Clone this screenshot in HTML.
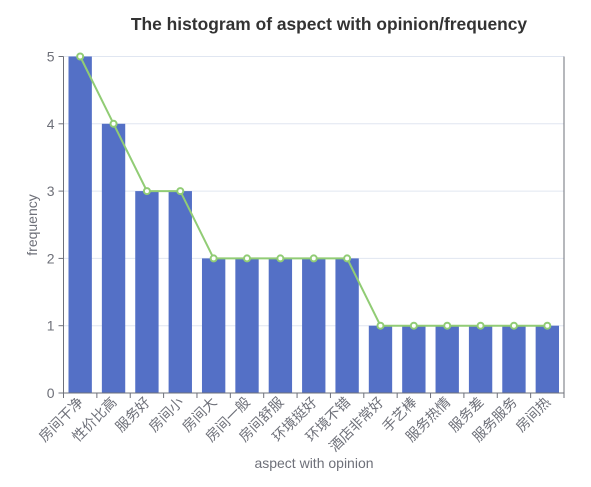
<!DOCTYPE html>
<html><head><meta charset="utf-8"><style>
body{margin:0;background:#fff;font-family:"Liberation Sans","Noto Sans CJK SC",sans-serif}
</style></head><body>
<svg id="c" width="591" height="482" xmlns="http://www.w3.org/2000/svg">
<text x="329" y="30" text-anchor="middle" font-size="17.4" font-weight="bold" fill="#333">The histogram of aspect with opinion/frequency</text>
<text x="314" y="468" text-anchor="middle" font-size="14" fill="#6e7079">aspect with opinion</text>
<text transform="translate(37,225) rotate(-90)" text-anchor="middle" font-size="14" fill="#6e7079">frequency</text>
<g id="g"></g>
</svg>
<script>
const categories=["房间干净","性价比高","服务好","房间小","房间大","房间一般","房间舒服","环境挺好","环境不错","酒店非常好","手艺棒","服务热情","服务差","服务服务","房间热"];
const values=[5,4,3,3,2,2,2,2,2,1,1,1,1,1,1];
const yTicks=[0,1,2,3,4,5];
const NS="http://www.w3.org/2000/svg";
const g=document.getElementById('g');
const L=63.5,R=564,T=56.5,B=393;
const bw=(R-L)/categories.length;
const x=i=>L+bw*(i+0.5);
const y=v=>B-(B-T)*v/5;
function el(t,a,p){const e=document.createElementNS(NS,t);for(const k in a)e.setAttribute(k,a[k]);(p||g).appendChild(e);return e;}
yTicks.forEach(t=>{
 if(t>0){const l=el('line',{x1:L,x2:R,y1:y(t),y2:y(t),stroke:'#e0e6f1'});
 
 }
 const tk=el('line',{x1:L-5,x2:L,y1:y(t),y2:y(t),stroke:'#6e7079'});
 
 
 const tx=el('text',{x:L-9,y:y(t)+5,'text-anchor':'end','font-size':14,fill:'#6e7079'});tx.textContent=t;
 
 
});
values.forEach((v,i)=>{
 const r=el('rect',{x:x(i)-bw*0.35,y:y(v),width:bw*0.7,height:B-y(v),fill:'#5470c6'});
 
 
});
[L,R].forEach(a=>{const l=el('line',{x1:a,x2:a,y1:T,y2:B,stroke:'#6e7079'});
 
 });
const xl=el('line',{x1:L,x2:R,y1:B,y2:B,stroke:'#6e7079'});


for(let i=0;i<=categories.length;i++){const t=el('line',{x1:L+bw*i,x2:L+bw*i,y1:B,y2:B+5,stroke:'#6e7079'});
 
 }
categories.forEach((c,i)=>{
 const t=el('text',{transform:`translate(${x(i)+4},${B+10}) rotate(-45)`,'text-anchor':'end','font-size':14,fill:'#6e7079'});t.textContent=c;
 
 
});
const ln=el('polyline',{points:values.map((v,i)=>x(i)+','+y(v)).join(' '),fill:'none',stroke:'#91cc75','stroke-width':2});


values.forEach((v,i)=>{const p=el('circle',{cx:x(i),cy:y(v),r:3,fill:'#fff',stroke:'#91cc75','stroke-width':2});
 
 });
</script>
</body></html>
